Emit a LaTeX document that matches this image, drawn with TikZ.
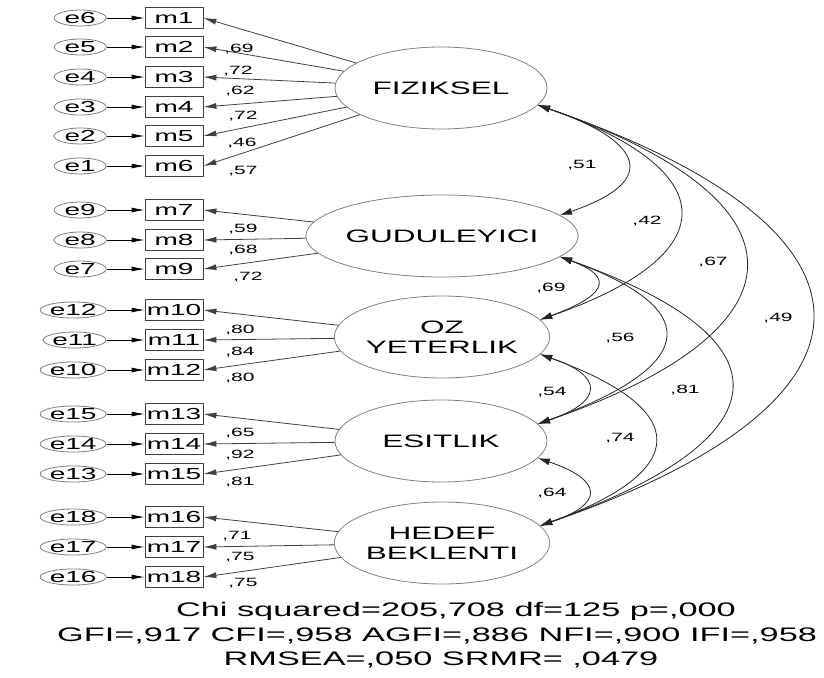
\documentclass[tikz,border=0pt]{standalone}
\usepackage{fontspec}
\setmainfont{Liberation Sans}[FakeStretch=1.75]
\usetikzlibrary{arrows.meta}
\usetikzlibrary{shapes.geometric}
\usetikzlibrary{positioning}

\begin{document}
\begin{tikzpicture}[x=1pt,y=-1pt,line width=0.8pt,node distance=38pt]
    \tikzstyle{latent}=[ellipse, draw=gray, minimum width=212pt, minimum height=82pt, inner sep=0pt, align=center, font=\fontsize{18}{20}\selectfont]
    \tikzstyle{item}=[rectangle, draw=darkgray, minimum width=58pt, minimum height=21pt, inner sep=0pt, font=\fontsize{16}{18}\selectfont]
    \tikzstyle{err}=[ellipse, draw=gray, minimum width=52pt, minimum height=16pt, inner sep=0pt, font=\fontsize{16}{18}\selectfont]
    \tikzstyle{coef}=[inner sep=0pt, font=\fontsize{12}{14}\selectfont]
    \tikzstyle{fitline}=[inner sep=0pt, font=\fontsize{19.6}{24}\selectfont]
    \tikzstyle{load}=[draw=darkgray, -{Latex[length=13pt,width=6pt]}]
    \tikzstyle{resid}=[draw=black, -{Latex[length=13pt,width=5pt]}]
    \tikzstyle{cov}=[draw=black!85, {Latex[length=12pt,width=7pt]}-{Latex[length=12pt,width=7pt]}]

    \useasboundingbox (0,0) rectangle (824,677);

    % latent factors
    \node[latent] (F) at (441,88)  {FIZIKSEL};
    \node[latent] (G) at (442,236) {GUDULEYICI};
    \node[latent] (O) at (442,337) {OZ\\YETERLIK};
    \node[latent] (E) at (441,441) {ESITLIK};
    \node[latent] (H) at (442,543) {HEDEF\\BEKLENTI};

    % observed items
    \node[item] (m1)  at (174,18)  {m1};
    \node[item] (m2)  at (174,47)  {m2};
    \node[item] (m3)  at (174,77)  {m3};
    \node[item] (m4)  at (174,107) {m4};
    \node[item] (m5)  at (174,136) {m5};
    \node[item] (m6)  at (174,166) {m6};
    \node[item] (m7)  at (174,210) {m7};
    \node[item] (m8)  at (174,240) {m8};
    \node[item] (m9)  at (174,269) {m9};
    \node[item] (m10) at (174,310) {m10};
    \node[item] (m11) at (174,340) {m11};
    \node[item] (m12) at (174,370) {m12};
    \node[item] (m13) at (174,414) {m13};
    \node[item] (m14) at (174,444) {m14};
    \node[item] (m15) at (174,474) {m15};
    \node[item] (m16) at (174,517) {m16};
    \node[item] (m17) at (174,547) {m17};
    \node[item] (m18) at (174,577) {m18};

    % error terms
    \node[err] (e6)  [left=of m1]  {e6};
    \node[err] (e5)  [left=of m2]  {e5};
    \node[err] (e4)  [left=of m3]  {e4};
    \node[err] (e3)  [left=of m4]  {e3};
    \node[err] (e2)  [left=of m5]  {e2};
    \node[err] (e1)  [left=of m6]  {e1};
    \node[err] (e9)  [left=of m7]  {e9};
    \node[err] (e8)  [left=of m8]  {e8};
    \node[err] (e7)  [left=of m9]  {e7};
    \node[err] (e12) [left=of m10] {e12};
    \node[err] (e11) [left=of m11] {e11};
    \node[err] (e10) [left=of m12] {e10};
    \node[err] (e15) [left=of m13] {e15};
    \node[err] (e14) [left=of m14] {e14};
    \node[err] (e13) [left=of m15] {e13};
    \node[err] (e18) [left=of m16] {e18};
    \node[err] (e17) [left=of m17] {e17};
    \node[err] (e16) [left=of m18] {e16};

    \path (e6) edge[resid] (m1);
    \path (e5) edge[resid] (m2);
    \path (e4) edge[resid] (m3);
    \path (e3) edge[resid] (m4);
    \path (e2) edge[resid] (m5);
    \path (e1) edge[resid] (m6);
    \path (e9) edge[resid] (m7);
    \path (e8) edge[resid] (m8);
    \path (e7) edge[resid] (m9);
    \path (e12) edge[resid] (m10);
    \path (e11) edge[resid] (m11);
    \path (e10) edge[resid] (m12);
    \path (e15) edge[resid] (m13);
    \path (e14) edge[resid] (m14);
    \path (e13) edge[resid] (m15);
    \path (e18) edge[resid] (m16);
    \path (e17) edge[resid] (m17);
    \path (e16) edge[resid] (m18);

    % loadings
    \path (F) edge[load] (m1.east);
    \path (F) edge[load] (m2.east);
    \path (F) edge[load] (m3.east);
    \path (F) edge[load] (m4.east);
    \path (F) edge[load] (m5.east);
    \path (F) edge[load] (m6.east);
    \path (G) edge[load] (m7.east);
    \path (G) edge[load] (m8.east);
    \path (G) edge[load] (m9.east);
    \path (O) edge[load] (m10.east);
    \path (O) edge[load] (m11.east);
    \path (O) edge[load] (m12.east);
    \path (E) edge[load] (m13.east);
    \path (E) edge[load] (m14.east);
    \path (E) edge[load] (m15.east);
    \path (H) edge[load] (m16.east);
    \path (H) edge[load] (m17.east);
    \path (H) edge[load] (m18.east);

    \node[coef] (lm1)  at (239,49)  {,69};
    \node[coef] (lm2)  at (238,71)  {,72};
    \node[coef] (lm3)  at (240,91)  {,62};
    \node[coef] (lm4)  at (243,116) {,72};
    \node[coef] (lm5)  at (242,143) {,46};
    \node[coef] (lm6)  at (243,171) {,57};
    \node[coef] (lm7)  at (243,229) {,59};
    \node[coef] (lm8)  at (243,250) {,68};
    \node[coef] (lm9)  at (248,277) {,72};
    \node[coef] (lm10) at (240,330) {,80};
    \node[coef] (lm11) at (240,352) {,84};
    \node[coef] (lm12) at (240,378) {,80};
    \node[coef] (lm13) at (240,433) {,65};
    \node[coef] (lm14) at (240,455) {,92};
    \node[coef] (lm15) at (240,482) {,81};
    \node[coef] (lm16) at (237,536) {,71};
    \node[coef] (lm17) at (240,557) {,75};
    \node[coef] (lm18) at (243,583) {,75};

    % covariances
    \draw[cov] (F.-10) .. controls +(103,35) and +(103,-35) .. (G.10);
    \draw[cov] (F.-10) .. controls +(187,65) and +(187,-65) .. (O.10);
    \draw[cov] (F.-10) .. controls +(276,95) and +(276,-95) .. (E.10);
    \draw[cov] (F.-10) .. controls +(363,125) and +(363,-125) .. (H.10);
    \draw[cov] (G.-10) .. controls +(60,22) and +(60,-22) .. (O.10);
    \draw[cov] (G.-10) .. controls +(153,55) and +(153,-55) .. (E.10);
    \draw[cov] (G.-10) .. controls +(240,85) and +(240,-85) .. (H.10);
    \draw[cov] (O.-10) .. controls +(65,22) and +(65,-22) .. (E.10);
    \draw[cov] (O.-10) .. controls +(152,55) and +(152,-55) .. (H.10);
    \draw[cov] (E.-10) .. controls +(65,22) and +(65,-22) .. (H.10);

    \node[coef] (cFG) at (582,165) {,51};
    \node[coef] (cFO) at (647,221) {,42};
    \node[coef] (cFE) at (713,262) {,67};
    \node[coef] (cFH) at (778,318) {,49};
    \node[coef] (cGO) at (551,288) {,69};
    \node[coef] (cGE) at (620,338) {,56};
    \node[coef] (cGH) at (685,390) {,81};
    \node[coef] (cOE) at (552,392) {,54};
    \node[coef] (cOH) at (620,438) {,74};
    \node[coef] (cEH) at (552,493) {,64};

    % fit indices
    \node[fitline] (chi)   at (456,611) {Chi squared=205,708 df=125 p=,000};
    \node[fitline] (gfi)   at (437,636) {GFI=,917 CFI=,958 AGFI=,886 NFI=,900 IFI=,958};
    \node[fitline] (rmsea) at (441,660) {RMSEA=,050 SRMR= ,0479};
\end{tikzpicture}
\end{document}
